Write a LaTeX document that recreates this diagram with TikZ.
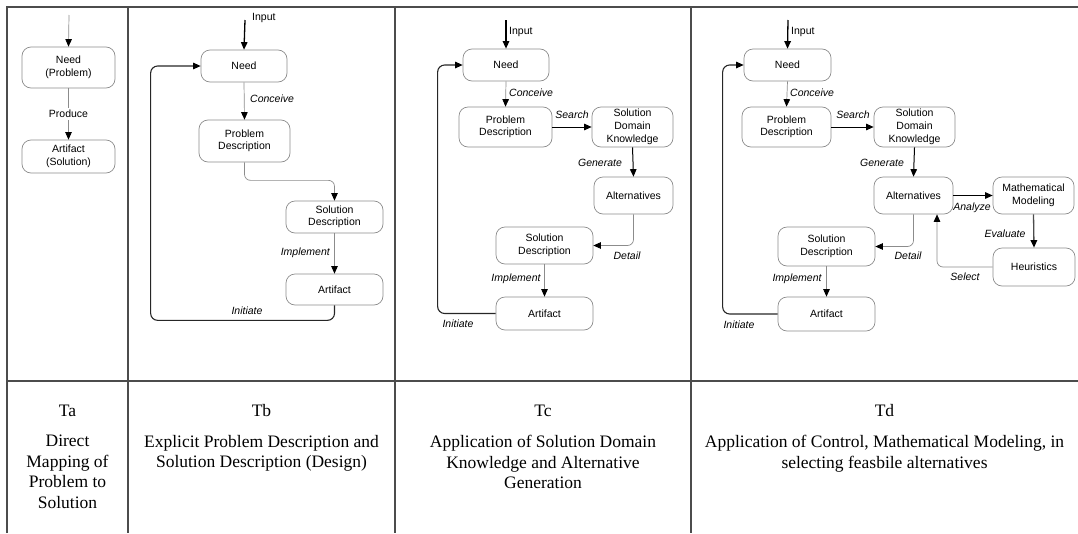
\documentclass[tikz,border=0pt]{standalone}
\usepackage{fontspec}
\setmainfont{Liberation Serif}
\setsansfont{Liberation Sans}
\usetikzlibrary{arrows.meta}
\begin{document}
\begin{tikzpicture}[x=1pt,y=-1pt,
  box/.style={draw=black!45, line width=0.7pt, rounded corners=9pt, align=center,
    font=\sffamily\fontsize{10.5}{12.5}\selectfont, inner sep=1pt},
  lbl/.style={font=\sffamily\itshape\fontsize{10.5}{12}\selectfont, inner sep=1pt},
  plainlbl/.style={font=\sffamily\fontsize{10.5}{12}\selectfont, inner sep=1pt},
  conn/.style={draw=black!45, line width=0.7pt, -{Triangle[length=7.5pt,width=6.5pt,color=black]}},
  dark/.style={draw=black, line width=1pt, -{Triangle[length=7.5pt,width=6.5pt,color=black]}},
  strong/.style={draw=black, line width=1.3pt, -{Triangle[length=7.5pt,width=6.5pt,color=black]}},
  loopline/.style={draw=black!85, line width=1.1pt, rounded corners=7pt, -{Triangle[length=7.5pt,width=6.5pt,color=black]}},
  gridline/.style={draw=black!70, line width=1.4pt},
  captxt/.style={font=\fontsize{17.5}{20.5}\selectfont, align=center, inner sep=0pt}
]
\useasboundingbox (0,0) rectangle (1078,533);

% ---- table grid
\draw[gridline] (7,533) -- (7,7) -- (1078,7);
\draw[gridline] (7,381) -- (1078,381);
\draw[gridline] (128,7) -- (128,533);
\draw[gridline] (395,7) -- (395,533);
\draw[gridline] (691,7) -- (691,533);

% ---- Ta
\coordinate (ina) at (69,15);
\node[box, minimum width=93pt, minimum height=41pt] (needa) at (68.5,67.5) {Need\\(Problem)};
\node[box, minimum width=93pt, minimum height=33pt] (arta) at (68.5,156.5) {Artifact\\(Solution)};
\draw[conn] (ina) -- (needa.north);
\draw[conn] (needa.south) -- (arta.north) node[plainlbl, pos=0.5, fill=white, inner sep=2pt] (proda) {Produce};

% ---- Tb
\coordinate (inb) at (245,20);
\node[box, minimum width=86pt, minimum height=32pt] (needb) at (244,66) {Need};
\node[box, minimum width=91pt, minimum height=42pt] (pdb) at (244.5,141) {Problem\\Description};
\node[box, minimum width=97pt, minimum height=32pt] (sdb) at (334.5,217) {Solution\\Description};
\node[box, minimum width=97pt, minimum height=31pt] (artb) at (334.5,289.5) {Artifact};
\draw[strong] (inb) -- (needb.north);
\node[plainlbl, anchor=west] (inlb) at (251,18) {Input};
\draw[conn] (needb.south) -- (pdb.north);
\node[lbl, anchor=west] (conb) at (249,99) {Conceive};
\draw[conn, rounded corners=6pt] (pdb.south) -- ++(0,18) -| (sdb.north);
\draw[conn] (sdb.south) -- (artb.north);
\node[lbl, anchor=east] (impb) at (331,253) {Implement};
\draw[loopline] (artb.south) -- ++(0,15) -| ([xshift=-50pt]needb.west) -- (needb.west);
\node[lbl] (inib) at (247,311) {Initiate};

% ---- Tc
\coordinate (inc) at (506,20);
\node[box, minimum width=86pt, minimum height=32pt] (needc) at (506,65) {Need};
\node[box, minimum width=93pt, minimum height=40pt] (pdc) at (505.5,127) {Problem\\Description};
\node[box, minimum width=81pt, minimum height=40pt, font=\sffamily\fontsize{10.5}{13}\selectfont] (sdkc) at (632.5,127) {Solution\\Domain\\Knowledge};
\node[box, minimum width=79pt, minimum height=37pt] (altc) at (633.5,195.5) {Alternatives};
\node[box, minimum width=97pt, minimum height=37pt] (sdc) at (544.5,245.5) {Solution\\Description};
\node[box, minimum width=97pt, minimum height=33pt] (artc) at (544.5,313.5) {Artifact};
\draw[strong] (inc) -- (needc.north);
\node[plainlbl, anchor=west] (inlc) at (508,32) {Input};
\draw[conn] (needc.south) -- (pdc.north);
\node[lbl, anchor=west] (conc) at (508,93) {Conceive};
\draw[dark] (pdc.east) -- (sdkc.west);
\node[lbl] (seac) at (572,115) {Search};
\draw[dark] (sdkc.south) -- (altc.north);
\node[lbl] (genc) at (600,163) {Generate};
\draw[conn, rounded corners=6pt] (altc.south) |- (sdc.east);
\node[lbl] (detc) at (627,256) {Detail};
\draw[conn] (sdc.south) -- (artc.north);
\node[lbl] (impc) at (516,279) {Implement};
\draw[loopline] (artc.west) -| ([xshift=-25pt]needc.west) -- (needc.west);
\node[lbl] (inic) at (458,324) {Initiate};

% ---- Td
\coordinate (ind) at (788,20);
\node[box, minimum width=87pt, minimum height=32pt] (needd) at (787.5,65) {Need};
\node[box, minimum width=89pt, minimum height=40pt] (pdd) at (786.5,127) {Problem\\Description};
\node[box, minimum width=81pt, minimum height=40pt, font=\sffamily\fontsize{10.5}{13}\selectfont] (sdkd) at (914.5,127) {Solution\\Domain\\Knowledge};
\node[box, minimum width=79pt, minimum height=37pt] (altd) at (913.5,195.5) {Alternatives};
\node[box, minimum width=81pt, minimum height=37pt] (mmd) at (1033.5,195.5) {Mathematical\\Modeling};
\node[box, minimum width=82pt, minimum height=38pt] (heud) at (1034,267) {Heuristics};
\node[box, minimum width=97pt, minimum height=39pt] (sdd) at (826.5,246.5) {Solution\\Description};
\node[box, minimum width=97pt, minimum height=34pt] (artd) at (826.5,314) {Artifact};
\draw[strong] (ind) -- (needd.north);
\node[plainlbl, anchor=west] (inld) at (790,32) {Input};
\draw[conn] (needd.south) -- (pdd.north);
\node[lbl, anchor=west] (cond) at (789,93) {Conceive};
\draw[dark] (pdd.east) -- (sdkd.west);
\node[lbl] (sead) at (853,115) {Search};
\draw[dark] (sdkd.south) -- (altd.north);
\node[lbl] (gend) at (882,163) {Generate};
\draw[dark] (altd.east) -- (mmd.west);
\node[lbl] (anad) at (972,208) {Analyze};
\draw[strong, draw=black!70] (mmd.south) -- (heud.north);
\node[lbl] (evad) at (1005,234) {Evaluate};
\draw[conn, rounded corners=6pt] (heud.west) -| ([xshift=23.5pt]altd.south);
\node[lbl] (seld) at (965,277) {Select};
\draw[conn, rounded corners=6pt] (altd.south) |- (sdd.east);
\node[lbl] (detd) at (908,256) {Detail};
\draw[conn] (sdd.south) -- (artd.north);
\node[lbl] (impd) at (797,279) {Implement};
\draw[loopline] (artd.west) -| ([xshift=-21pt]needd.west) -- (needd.west);
\node[lbl] (inid) at (739,325) {Initiate};

% ---- captions
\node[captxt, anchor=base] (capa) at (67.5,416) {Ta};
\node[captxt, anchor=north] (txta) at (67.5,435) {Direct\\Mapping of\\Problem to\\Solution};
\node[captxt, anchor=base] (capb) at (261.5,416) {Tb};
\node[captxt, anchor=north] (txtb) at (261.5,435) {Explicit Problem Description and\\Solution Description (Design)};
\node[captxt, anchor=base] (capc) at (543,416) {Tc};
\node[captxt, anchor=north] (txtc) at (543,435) {Application of Solution Domain\\Knowledge and Alternative\\Generation};
\node[captxt, anchor=base] (capd) at (884.5,416) {Td};
\node[captxt, anchor=north] (txtd) at (884.5,435) {Application of Control, Mathematical Modeling, in\\selecting feasbile alternatives};
\end{tikzpicture}
\end{document}
